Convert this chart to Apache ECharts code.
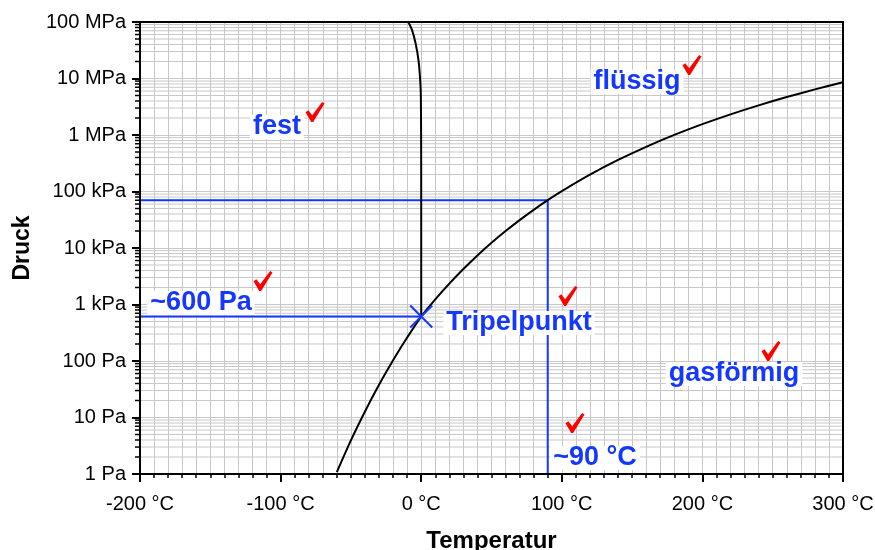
<!DOCTYPE html>
<html>
<head>
<meta charset="utf-8">
<script src="https://cdn.jsdelivr.net/npm/echarts@6/dist/echarts.min.js"></script>
<style>html,body{margin:0;padding:0;background:#fff}#c{width:875px;height:550px}</style>
</head>
<body>
<div id="c"></div>
<script>
// ---- data ----
const xTickLabels = ['-200 °C', '-100 °C', '0 °C', '100 °C', '200 °C', '300 °C'];
const yTickLabels = ['1 Pa', '10 Pa', '100 Pa', '1 kPa', '10 kPa', '100 kPa', '1 MPa', '10 MPa', '100 MPa'];
const yDecades = [1, 10, 100, 1e3, 1e4, 1e5, 1e6, 1e7];
const yMinorMultipliers = [2, 3, 4, 5, 6, 7, 8, 9];

// sublimation + vaporization curve (°C, Pa)
const vapT = [-60, -50, -40, -30, -20, -10, 0.01, 10, 20, 30, 40, 50, 60, 70, 80, 90, 100, 120, 140, 160, 180, 200, 220, 240, 260, 280, 300];
const vapP = [1.08, 3.94, 12.8, 38.0, 103, 260, 611.657, 1228, 2339, 4246, 7384, 12350, 19940, 31190, 47390, 70140, 101325, 198500, 361500, 618100, 1002800, 1554900, 2319600, 3346900, 4692400, 6416600, 8587900];

// melting curve (°C, Pa)
const meltT = [0.01, 0.0, -0.07, -0.3, -0.9, -1.9, -4.0, -6.5, -9.2];
const meltP = [611.657, 1e5, 1e6, 5.5e6, 1.08e7, 2.1e7, 4.2e7, 7.2e7, 1e8];

// triple point
const tripleT = 0.01;
const tripleP = 611.657;

// guide lines (blue)
const guide600T = [-200, 0.01];
const guide600P = [611.657, 611.657];
const guide90T = [-200, 90, 90];
const guide90P = [70140, 70140, 1];

// text annotations [T, P, text]
const labelT = [-102.6, 153.5, 69.6, 222.5, -156.6, 123.6];
const labelP = [1.39e6, 8.67e6, 470, 58.9, 1063, 1.92];
const labelText = ['fest', 'flüssig', 'Tripelpunkt', 'gasförmig', '~600 Pa', '~90 °C'];

// red check marks
const checkT = [-75.5, 192.6, -112.5, 104.4, 109.4, 248.8];
const checkP = [2.55e6, 1.73e7, 2606, 1414, 8.0, 150];

// ---- chart ----
const BLUE = '#1438ff';
const FONT = "'Liberation Sans', Arial, sans-serif";
const zip = (a, b) => a.map((v, i) => [v, b[i]]);
const yMinorValues = [];
yDecades.forEach(d => yMinorMultipliers.forEach(m => yMinorValues.push(m * d)));

const CHECK_PATH = 'path://M0,10.5L3,8.5L7,13.5L17.5,0L20,1.5L8,20.5L6,20.5Z';

const chart = echarts.init(document.getElementById('c'), null, {renderer: 'canvas'});
chart.setOption({
  animation: false,
  backgroundColor: '#fff',
  textStyle: {fontFamily: FONT},
  grid: {left: 140, right: 32, top: 22, bottom: 76, containLabel: false, outerBoundsMode: 'none',
    show: true, borderColor: '#000', borderWidth: 2, backgroundColor: 'transparent', z: 5},
  xAxis: {
    type: 'value', min: -200, max: 300, interval: 100,
    name: 'Temperatur', nameLocation: 'middle', nameGap: 55,
    nameTextStyle: {fontSize: 24, fontWeight: 'bold', color: '#000', fontFamily: FONT},
    axisLine: {show: true, onZero: false, lineStyle: {color: '#000', width: 2}},
    axisTick: {show: true, inside: false, length: 8, lineStyle: {color: '#000', width: 2}},
    minorTick: {show: true, splitNumber: 10, length: 4, lineStyle: {color: '#000', width: 1.5}},
    axisLabel: {fontSize: 20, color: '#000', margin: 20, fontFamily: FONT,
      formatter: v => xTickLabels[Math.round((v + 200) / 100)]},
    splitLine: {show: true, lineStyle: {color: '#c8c8c8', width: 1}},
    minorSplitLine: {show: true, lineStyle: {color: '#c8c8c8', width: 1}}
  },
  yAxis: {
    type: 'log', logBase: 10, min: 1, max: 1e8,
    name: 'Druck', nameLocation: 'middle', nameGap: 106,
    nameTextStyle: {fontSize: 23, fontWeight: 'bold', color: '#000', fontFamily: FONT},
    axisLine: {show: true, onZero: false, lineStyle: {color: '#000', width: 2}},
    axisTick: {show: true, inside: false, length: 8, lineStyle: {color: '#000', width: 2}},
    minorTick: {show: false},
    axisLabel: {fontSize: 20, color: '#000', margin: 14, fontFamily: FONT,
      formatter: v => yTickLabels[Math.round(Math.log10(v))]},
    splitLine: {show: true, lineStyle: {color: '#c8c8c8', width: 1}},
    minorSplitLine: {show: false}
  },
  series: [
    {
      type: 'custom', silent: true, clip: false, z: 1,
      data: yMinorValues.map(v => [-200, v]),
      renderItem: (params, api) => {
        const p0 = api.coord([-200, api.value(1)]);
        const p1 = api.coord([300, api.value(1)]);
        return {type: 'group', children: [
          {type: 'line', shape: {x1: p0[0], y1: p0[1], x2: p1[0], y2: p1[1]}, style: {stroke: '#c8c8c8', lineWidth: 1}},
          {type: 'line', shape: {x1: p0[0] - 5, y1: p0[1], x2: p0[0], y2: p0[1]}, style: {stroke: '#000', lineWidth: 1.5}}
        ]};
      }
    },
    {type: 'line', data: zip(guide600T, guide600P), showSymbol: false, lineStyle: {color: BLUE, width: 2}, z: 3},
    {type: 'line', data: zip(guide90T, guide90P), showSymbol: false, lineStyle: {color: BLUE, width: 2}, z: 3},
    {type: 'line', data: zip(vapT, vapP), smooth: 0.3, showSymbol: false, lineStyle: {color: '#000', width: 2}, z: 4},
    {type: 'line', data: zip(meltT, meltP), smooth: 0.3, showSymbol: false, lineStyle: {color: '#000', width: 2}, z: 4},
    {type: 'scatter', data: [[tripleT, tripleP]], symbol: 'path://M0,0L10,10M10,0L0,10', symbolSize: 22,
      itemStyle: {color: 'transparent', borderColor: BLUE, borderWidth: 2, opacity: 1}, z: 6},
    {type: 'scatter', data: labelText.map((t, i) => ({value: [labelT[i], labelP[i]], name: t})), symbolSize: 0, z: 7,
      itemStyle: {opacity: 1},
      label: {show: true, position: 'inside', formatter: p => p.name, fontSize: 27, lineHeight: 24, fontWeight: 'bold', color: BLUE,
        fontFamily: FONT, backgroundColor: '#fff', padding: [0, 3]}},
    {type: 'scatter', data: zip(checkT, checkP), symbol: CHECK_PATH, symbolSize: [19, 20], z: 8,
      itemStyle: {color: '#ff0000', opacity: 1}}
  ]
});
</script>
</body>
</html>
